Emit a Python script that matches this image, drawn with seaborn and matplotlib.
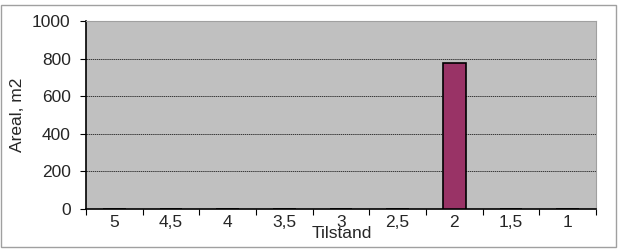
import matplotlib
matplotlib.use("Agg")
import matplotlib.pyplot as plt
import seaborn as sns
import pandas as pd
import numpy as np
from matplotlib.patches import Rectangle

categories = ["5", "4,5", "4", "3,5", "3", "2,5", "2", "1,5", "1"]
values = [0, 0, 0, 0, 0, 0, 775, 0, 0]
yticks = [0, 200, 400, 600, 800, 1000]

sns.set_theme(style="white")
plt.rcParams['font.family'] = ['Liberation Sans', 'DejaVu Sans']

FS = 12.5
df = pd.DataFrame({"Tilstand": categories, "Areal": values})

fig = plt.figure(figsize=(6.18, 2.49), dpi=100)
ax = fig.add_axes([86/618, 1 - 209/249, (596-86)/618, (209-21)/249])
fig.patches.append(Rectangle((0.5/618, 2/249), 615/618, 242/249, transform=fig.transFigure,
                             fill=False, edgecolor="#a0a0a0", linewidth=1))

sns.barplot(data=df, x="Tilstand", y="Areal", order=categories, color="#993366",
            saturation=1, width=0.4, edgecolor="black", linewidth=1.2, ax=ax, zorder=3)

ax.set_facecolor("#c0c0c0")
ax.set_ylim(0, 1000)
ax.set_xlim(-0.5, len(categories) - 0.5)
ax.set_yticks(yticks)
ax.set_yticklabels([str(v) for v in yticks], fontsize=FS)
ax.yaxis.grid(True, color="black", linestyle=(0, (2, 1)), linewidth=0.5)
ax.set_axisbelow(True)

ax.set_xticks(np.arange(-0.5, len(categories), 1.0))
ax.set_xticklabels([""] * (len(categories) + 1))
ax.set_xticks(np.arange(len(categories)), minor=True)
ax.set_xticklabels(categories, minor=True, fontsize=FS)
ax.tick_params(axis="x", which="major", direction="out", length=4, width=0.8, color="black", bottom=True)
ax.tick_params(axis="x", which="minor", length=0, pad=4)
ax.tick_params(axis="y", direction="out", length=4, width=0.8, color="black", left=True, pad=7)

for s in ["top", "right"]:
    ax.spines[s].set_color("#a0a0a0")
    ax.spines[s].set_linewidth(0.8)
for s in ["left", "bottom"]:
    ax.spines[s].set_color("black")
    ax.spines[s].set_linewidth(1.2)

ax.set_xlabel("")
ax.set_ylabel("Areal, m2", fontsize=FS, labelpad=5)
fig.text(342/618, 1 - 238/249, "Tilstand", fontsize=FS, ha="center", va="baseline")

fig.savefig("out.png", dpi=100)
